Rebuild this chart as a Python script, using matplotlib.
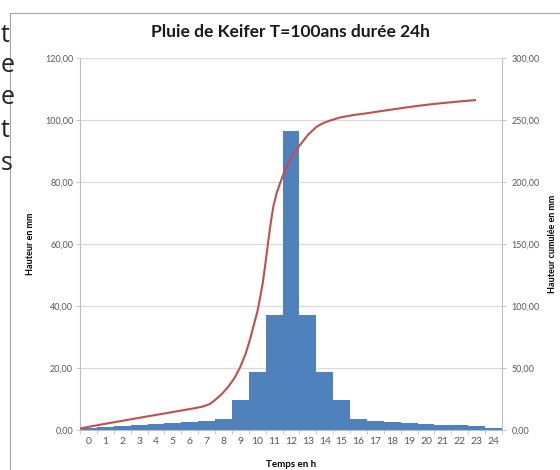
import matplotlib
matplotlib.use("Agg")
import matplotlib.pyplot as plt
from matplotlib.patches import Rectangle
import numpy as np

plt.rcParams['font.family'] = ['Lato', 'DejaVu Sans']

# hourly rainfall (mm) for each hour 0..24
hours = list(range(25))
rain = [0.8, 1.0, 1.3, 1.5, 1.8, 2.1, 2.5, 3.0, 3.5, 9.7, 18.7, 37.0, 96.5,
        37.0, 18.7, 9.7, 3.5, 3.0, 2.6, 2.2, 1.9, 1.7, 1.5, 1.4, 0.6]

# cumulative curve (time in h, cumulated mm)
t_cumul = [0.0, 1.0, 2.0, 3.0, 4.0, 5.0, 6.0, 6.8, 7.3, 7.7, 8.0, 8.4, 8.79,
           9.18, 9.5, 9.8, 10.05, 10.27, 10.5, 10.66, 10.82, 10.96, 11.16,
           11.3, 11.45, 11.65, 11.85, 12.1, 12.44, 12.75, 13.03, 13.5,
           14.02, 14.4, 14.8, 15.4, 16.2, 16.98, 17.5, 19.0, 19.95, 21.0,
           22.5, 23.4]
cumul = [1.2, 3.8, 6.2, 8.6, 11.0, 13.3, 15.7, 17.6, 19.0, 21.0, 24.2, 29.0,
         35.0, 42.5, 51.0, 61.0, 72.0, 83.3, 95.0, 106.0, 118.0, 131.7,
         153.0, 167.0, 180.0, 191.0, 199.0, 208.0, 217.7, 224.5, 229.8,
         238.0, 244.6, 247.5, 249.5, 252.0, 254.0, 255.4, 256.5, 259.5,
         261.3, 263.0, 265.0, 266.0]

left_ticks = [0, 20, 40, 60, 80, 100, 120]
left_labels = ['0,00', '20,00', '40,00', '60,00', '80,00', '100,00', '120,00']
right_ticks = [0, 50, 100, 150, 200, 250, 300]
right_labels = ['0,00', '50,00', '100,00', '150,00', '200,00', '250,00', '300,00']

grey = '#595959'
axis_grey = '#bfbfbf'

fig = plt.figure(figsize=(5.6, 4.7), dpi=100)
ax = fig.add_axes([80 / 560, 1 - 430 / 470, 422 / 560, 372 / 470])

# chart frame (only left/top visible in the crop)
fig.patches.append(Rectangle((10 / 560, -0.1), 1.2, 1 - 13 / 470 + 0.1,
                             transform=fig.transFigure, fill=False,
                             edgecolor='#a6a6a6', linewidth=0.8))

# document text on the left, next to the chart
for y, ch in zip([35, 66, 98, 130, 163], ['t', 'e', 'e', 't', 's']):
    fig.text(0.5 / 560, 1 - y / 470, ch, ha='left', va='center',
             fontsize=18, color='#222222', family=['Open Sans', 'DejaVu Sans'])

ax.bar(hours, rain, width=1.0, align='edge', color='#4f81bd', zorder=2)
ax.set_xlim(0, 25)
ax.set_ylim(0, 120)
ax.set_yticks(left_ticks)
ax.set_yticklabels(left_labels)
ax.set_xticks(np.array(hours) + 0.5)
ax.set_xticklabels([str(h) for h in hours])
ax.set_xticks(np.arange(26), minor=True)
ax.grid(axis='y', color='#d9d9d9', linewidth=0.8, zorder=0)
ax.set_axisbelow(True)

ax.tick_params(axis='y', colors=grey, labelsize=6.5, length=3, width=0.6,
               color=axis_grey, pad=2)
ax.tick_params(axis='x', which='major', length=0, labelsize=7.5,
               labelcolor=grey, pad=5)
ax.tick_params(axis='x', which='minor', length=3, width=0.6, color=axis_grey)
for side in ['top', 'right']:
    ax.spines[side].set_visible(False)
ax.spines['left'].set_color(axis_grey)
ax.spines['bottom'].set_color(axis_grey)
ax.spines['left'].set_linewidth(0.8)
ax.spines['bottom'].set_linewidth(0.8)

ax.set_ylabel('Hauteur en mm', fontsize=6.5, fontweight='bold')
ax.yaxis.set_label_coords(-0.107, 0.5)
ax.set_xlabel('Temps en h', fontsize=7, fontweight='bold')
ax.xaxis.set_label_coords(0.5, -0.08)

ax2 = ax.twinx()
ax2.plot(t_cumul, cumul, color='#c0504d', linewidth=1.5, zorder=3,
         solid_joinstyle='round')
ax2.set_ylim(0, 300)
ax2.set_yticks(right_ticks)
ax2.set_yticklabels(right_labels)
ax2.tick_params(axis='y', colors=grey, labelsize=6.5, length=3, width=0.6,
                color=axis_grey, pad=4)
for side in ['top', 'left', 'bottom']:
    ax2.spines[side].set_visible(False)
ax2.spines['right'].set_color(axis_grey)
ax2.spines['right'].set_linewidth(0.8)
ax2.set_ylabel('Hauteur cumulée en mm', fontsize=6.5, fontweight='bold',
               rotation=90)
ax2.yaxis.set_label_coords(1.109, 0.5)

fig.text(290 / 560, 1 - 32 / 470, 'Pluie de Keifer T=100ans durée 24h',
         ha='center', va='center', fontsize=12.5, fontweight='bold',
         color='#1a1a1a')

fig.savefig('out.png', dpi=100)
